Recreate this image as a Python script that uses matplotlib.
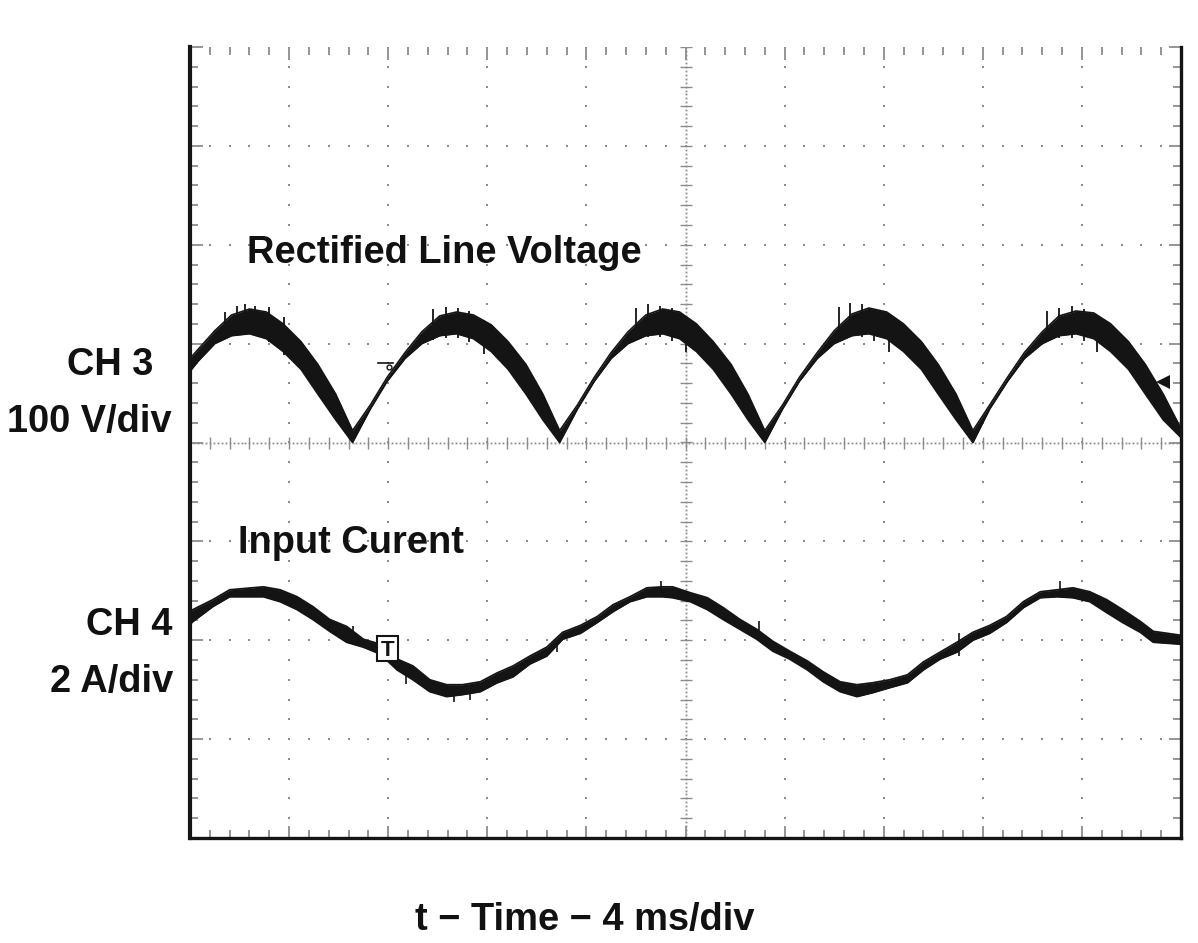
import numpy as np
import matplotlib
matplotlib.use("Agg")
import matplotlib.pyplot as plt
from matplotlib.ticker import MultipleLocator
from matplotlib.patches import Rectangle

# ---------------- data (in scope divisions) ----------------
# CH3: rectified line voltage, noise band (upper / lower envelope)
v_time = [0.00, 0.08, 0.25, 0.42, 0.60, 0.77, 0.94, 1.12, 1.29, 1.47, 1.64,
          1.82, 1.99, 2.17, 2.34, 2.52, 2.69, 2.86, 3.04, 3.21, 3.39, 3.56, 3.73,
          3.91, 4.08, 4.25, 4.42, 4.60, 4.77, 4.94, 5.11, 5.28, 5.46, 5.63, 5.80,
          5.98, 6.15, 6.33, 6.50, 6.68, 6.85, 7.03, 7.20, 7.38, 7.55, 7.73, 7.90,
          8.07, 8.25, 8.42, 8.60, 8.77, 8.94, 9.12, 9.29, 9.47, 9.64, 9.82, 10.0]
v_upper = [0.85, 0.94, 1.13, 1.29, 1.35, 1.32, 1.20, 1.02, 0.79, 0.49, 0.12,
           0.38, 0.66, 0.91, 1.12, 1.28, 1.32, 1.29, 1.19, 1.02, 0.79, 0.49, 0.12,
           0.38, 0.66, 0.91, 1.12, 1.29, 1.35, 1.32, 1.20, 1.02, 0.79, 0.49, 0.12,
           0.38, 0.66, 0.91, 1.13, 1.30, 1.36, 1.32, 1.20, 1.02, 0.79, 0.49, 0.12,
           0.38, 0.66, 0.91, 1.12, 1.28, 1.33, 1.31, 1.20, 1.02, 0.79, 0.49, 0.14]
v_lower = [0.72, 0.82, 1.00, 1.08, 1.10, 1.05, 0.92, 0.74, 0.49, 0.23, 0.00,
           0.34, 0.62, 0.85, 1.00, 1.08, 1.10, 1.05, 0.92, 0.74, 0.49, 0.23, 0.00,
           0.34, 0.62, 0.85, 1.00, 1.08, 1.10, 1.05, 0.92, 0.74, 0.49, 0.23, 0.00,
           0.34, 0.62, 0.85, 1.00, 1.08, 1.10, 1.05, 0.92, 0.74, 0.49, 0.23, 0.00,
           0.34, 0.62, 0.85, 1.00, 1.08, 1.10, 1.05, 0.92, 0.74, 0.49, 0.23, 0.05]
# noise spikes on the voltage peaks
v_spike_time = [0.35, 0.47, 0.56, 0.66, 0.80, 0.95,
                2.45, 2.58, 2.70, 2.82, 2.97,
                4.50, 4.62, 4.74, 4.86, 5.00,
                6.55, 6.66, 6.78, 6.90, 7.05,
                8.65, 8.77, 8.90, 9.02, 9.15]
v_spike_low  = [1.05, 1.08, 1.09, 1.08, 1.02, 0.88,
                1.04, 1.06, 1.06, 1.02, 0.90,
                1.05, 1.07, 1.07, 1.03, 0.92,
                1.05, 1.07, 1.07, 1.03, 0.92,
                1.04, 1.06, 1.06, 1.03, 0.92]
v_spike_high = [1.32, 1.38, 1.40, 1.38, 1.37, 1.27,
                1.35, 1.37, 1.36, 1.33, 1.24,
                1.36, 1.40, 1.38, 1.36, 1.26,
                1.37, 1.41, 1.40, 1.35, 1.26,
                1.33, 1.36, 1.38, 1.35, 1.26]

# CH4: input current, noise band (upper / lower envelope)
i_time = [0.00, 0.03, 0.23, 0.40, 0.74, 0.91, 1.08, 1.24, 1.41, 1.58,
          1.75, 1.92, 2.09, 2.25, 2.42, 2.59, 2.75, 2.93, 3.10, 3.26,
          3.43, 3.60, 3.76, 3.94, 4.11, 4.27, 4.44, 4.61, 4.77, 4.87,
          5.05, 5.22, 5.38, 5.55, 5.72, 5.88, 6.05, 6.23, 6.39, 6.56,
          6.73, 6.89, 7.06, 7.24, 7.40, 7.57, 7.74, 7.90, 8.07, 8.24,
          8.41, 8.58, 8.75, 8.91, 9.08, 9.25, 9.41, 9.59, 9.72, 10.0]
i_upper = [-1.71, -1.69, -1.59, -1.49, -1.46, -1.49, -1.56, -1.66, -1.79, -1.86,
           -1.99, -2.04, -2.19, -2.26, -2.40, -2.45, -2.45, -2.42, -2.33, -2.26,
           -2.16, -2.07, -1.92, -1.85, -1.76, -1.64, -1.56, -1.47, -1.46, -1.46,
           -1.52, -1.57, -1.67, -1.79, -1.89, -2.01, -2.11, -2.21, -2.32, -2.42,
           -2.45, -2.43, -2.40, -2.35, -2.22, -2.12, -2.02, -1.92, -1.85, -1.76,
           -1.61, -1.51, -1.49, -1.47, -1.51, -1.59, -1.69, -1.81, -1.91, -1.95]
i_lower = [-1.84, -1.81, -1.66, -1.56, -1.56, -1.61, -1.69, -1.79, -1.91, -2.02,
           -2.07, -2.14, -2.30, -2.40, -2.52, -2.57, -2.55, -2.52, -2.43, -2.37,
           -2.24, -2.16, -1.99, -1.93, -1.82, -1.71, -1.61, -1.56, -1.56, -1.57,
           -1.61, -1.69, -1.79, -1.89, -1.99, -2.11, -2.19, -2.30, -2.42, -2.52,
           -2.57, -2.53, -2.48, -2.43, -2.30, -2.19, -2.12, -2.00, -1.93, -1.82,
           -1.67, -1.57, -1.56, -1.57, -1.61, -1.72, -1.82, -1.92, -2.02, -2.04]
# isolated noise spikes on the current trace
i_spike_time = [1.64, 2.18, 2.66, 2.83, 3.70, 4.75, 5.74, 7.76, 8.78, 9.67]
i_spike_low  = [-2.00, -2.44, -2.62, -2.60, -2.12, -1.50, -1.97, -2.16, -1.50, -1.98]
i_spike_high = [-1.86, -2.30, -2.50, -2.50, -2.02, -1.40, -1.81, -1.93, -1.40, -1.88]

# labels
title_v = "Rectified Line Voltage"
title_i = "Input Curent"
ch3_lines = ["CH 3", "100 V/div"]
ch4_lines = ["CH 4", "2 A/div"]
xlabel = "t \u2212 Time \u2212 4 ms/div"

# ---------------- figure ----------------
W, H, DPI = 1198, 943, 100
plt.rcParams['font.family'] = ['Liberation Sans', 'DejaVu Sans']
fig = plt.figure(figsize=(W / DPI, H / DPI), dpi=DPI)
fig.patch.set_facecolor('white')
ax = fig.add_axes([190 / W, 1 - 838 / H, 991 / W, 791 / H])
ax.set_xlim(0, 10)
ax.set_ylim(-4, 4)

grey = '#8c8c8c'
ink = '#141414'

# dotted graticule
dots = np.arange(0, 10.001, 0.2)
ydots = np.arange(-4, 4.001, 0.2)
for gx in range(1, 10):
    if gx == 5:
        continue
    ax.plot(np.full(ydots.size, gx), ydots, ls='none', marker='s', ms=1.8,
            mew=0, color=grey, zorder=1)
for gy in range(-3, 4):
    if gy == 0:
        continue
    ax.plot(dots, np.full(dots.size, gy), ls='none', marker='s', ms=1.8,
            mew=0, color=grey, zorder=1)
# center cross lines (dense) with small ticks
dense_x = np.arange(0, 10.001, 0.04)
dense_y = np.arange(-4, 4.001, 0.04)
ax.plot(dense_x, np.zeros(dense_x.size), ls='none', marker='s', ms=1.3, mew=0,
        color=grey, zorder=1)
ax.plot(np.full(dense_y.size, 5), dense_y, ls='none', marker='s', ms=1.3, mew=0,
        color=grey, zorder=1)
ax.plot(dots, np.zeros(dots.size), ls='none', marker='|', ms=9, mew=1.0,
        color=grey, zorder=1)
ax.plot(np.full(ydots.size, 5), ydots, ls='none', marker='_', ms=9, mew=1.0,
        color=grey, zorder=1)

# edge ticks
ax.xaxis.set_major_locator(MultipleLocator(1))
ax.xaxis.set_minor_locator(MultipleLocator(0.2))
ax.yaxis.set_major_locator(MultipleLocator(1))
ax.yaxis.set_minor_locator(MultipleLocator(0.2))
ax.tick_params(which='both', direction='in', top=True, right=True,
               bottom=True, left=True, labelbottom=False, labelleft=False,
               color=grey, width=1.3)
ax.tick_params(which='major', length=9)
ax.tick_params(which='minor', length=5.5)

for side in ['left', 'right', 'bottom']:
    ax.spines[side].set_color(ink)
ax.spines['left'].set_linewidth(3.0)
ax.spines['right'].set_linewidth(2.4)
ax.spines['bottom'].set_linewidth(2.4)
ax.spines['top'].set_visible(False)

# traces
ax.fill_between(v_time, v_lower, v_upper, color=ink, lw=0, zorder=3)
ax.plot(v_time, v_upper, color=ink, lw=1.2, zorder=3)
ax.plot(v_time, v_lower, color=ink, lw=1.2, zorder=3)
ax.vlines(v_spike_time, v_spike_low, v_spike_high, color=ink, lw=1.3, zorder=3)
ax.fill_between(i_time, i_lower, i_upper, color=ink, lw=0, zorder=3)
ax.plot(i_time, i_upper, color=ink, lw=1.3, zorder=3)
ax.plot(i_time, i_lower, color=ink, lw=1.3, zorder=3)
ax.vlines(i_spike_time, i_spike_low, i_spike_high, color=ink, lw=1.2, zorder=3)

# scope markers
ax.plot([1.90, 2.05], [0.80, 0.80], color=ink, lw=1.2, zorder=4)
ax.plot([2.01], [0.76], marker='o', ms=3.5, mfc='white', mec=ink, mew=1, zorder=4)
ax.add_patch(Rectangle((1.89, -2.21), 0.21, 0.25, facecolor='white',
                       edgecolor=ink, lw=1.5, zorder=5))
ax.text(1.995, -2.10, "T", ha='center', va='center', fontsize=16,
        fontweight='bold', color=ink, zorder=6)
ax.plot([9.82], [0.61], marker='<', ms=10, color=ink, mew=0, zorder=4)

# texts (figure pixel coords)
def ftext(x, y, s, ha='left'):
    fig.text(x / W, 1 - y / H, s, ha=ha, va='baseline', fontsize=27.4,
             fontweight='bold', color='#111111')

ftext(247, 263, title_v)
ftext(238, 553, title_i)
ftext(153, 375, ch3_lines[0], ha='right')
ftext(172, 432, ch3_lines[1], ha='right')
ftext(173, 635, ch4_lines[0], ha='right')
ftext(173, 692, ch4_lines[1], ha='right')
ftext(585, 930, xlabel, ha='center')

fig.savefig("out.png", dpi=DPI)
